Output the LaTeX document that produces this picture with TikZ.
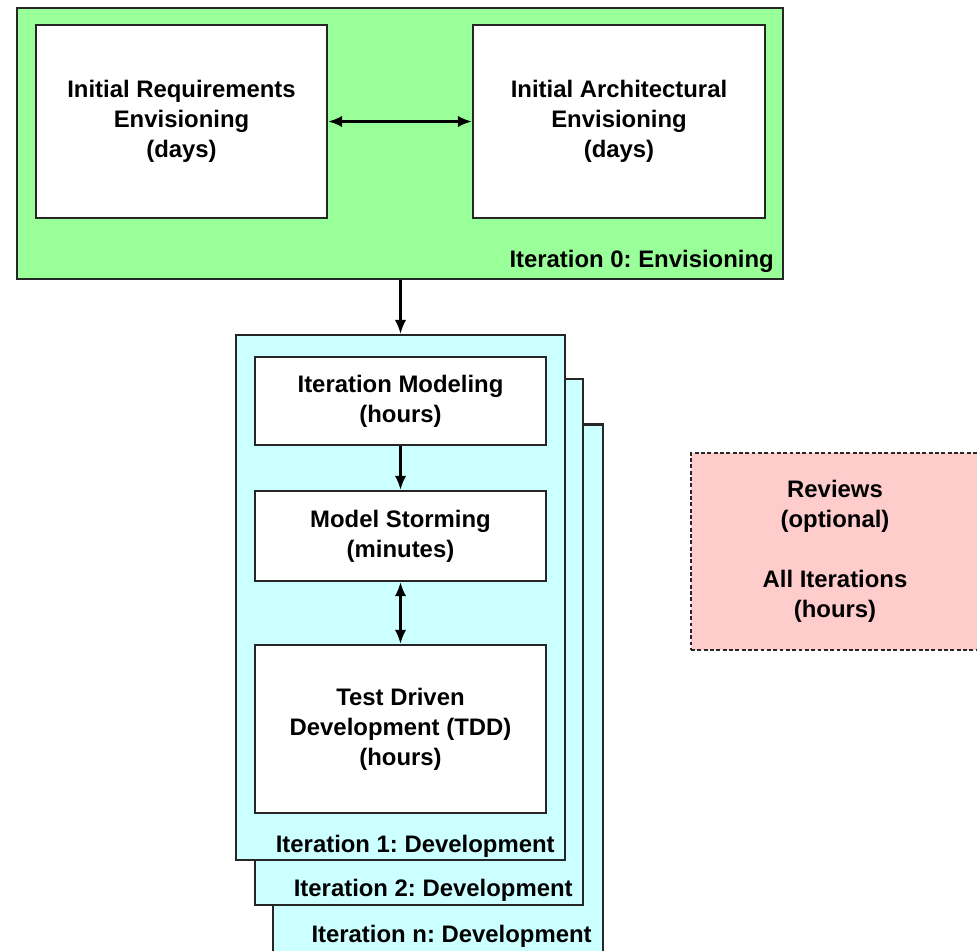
\documentclass[tikz,border=0pt]{standalone}
\usepackage{fontspec}
\setmainfont{Liberation Sans}
\usepackage{xcolor}
\usepackage{tikz}
\usetikzlibrary{positioning,arrows.meta}
\frenchspacing

\definecolor{envgreen}{HTML}{99FF99}
\definecolor{devcyan}{HTML}{CCFFFF}
\definecolor{revpink}{HTML}{FFCCCC}

\tikzset{
    phase/.style={draw=black!85, line width=1.3pt, rectangle},
    activity/.style={draw=black!85, line width=1.3pt, rectangle, fill=white, align=center,
        font=\fontsize{13.6}{17}\selectfont\bfseries},
    tag/.style={font=\fontsize{13.6}{17}\selectfont\bfseries, inner sep=0pt},
    flow/.style={line width=1.3pt, -{Latex[length=8pt,width=6.5pt]}},
    twoway/.style={line width=1.3pt, {Latex[length=8pt,width=6.5pt]}-{Latex[length=8pt,width=6.5pt]}}
}

\begin{document}
\begin{tikzpicture}[x=0.02cm, y=-0.02cm]
    \useasboundingbox (0,0) rectangle (977,950);
    \clip (0,0) rectangle (977,950);

    % Iteration 0: envisioning
    \node[phase, fill=envgreen, minimum width=15.32cm, minimum height=5.42cm] (envision) at (400,143.5) {};
    \node[tag, anchor=south east] (envtag) at ([xshift=-0.2cm,yshift=0.15cm]envision.south east) {Iteration 0: Envisioning};
    \node[activity, minimum width=5.82cm, minimum height=3.86cm] (reqenv) at (181.5,121.5)
        {Initial Requirements\\Envisioning\\(days)};
    \node[activity, minimum width=5.84cm, minimum height=3.86cm] (archenv) at (619,121.5)
        {Initial Architectural\\Envisioning\\(days)};
    \draw[twoway] (reqenv.east) -- (archenv.west);

    % Development iterations (stacked)
    \node[phase, fill=devcyan, minimum width=6.6cm, minimum height=10.7cm] (itern) at (438,692) {};
    \node[phase, fill=devcyan, minimum width=6.56cm, minimum height=10.52cm] (iter2) at (419,642) {};
    \node[phase, fill=devcyan, minimum width=6.58cm, minimum height=10.5cm] (iter1) at (400.5,597.5) {};
    \node[tag, anchor=east] (tag1) at (555,846) {Iteration 1: Development};
    \node[tag, anchor=east] (tag2) at (573,890) {Iteration 2: Development};
    \node[tag, anchor=east] (tagn) at (592,936) {Iteration n: Development};

    \node[activity, minimum width=5.82cm, minimum height=1.76cm] (itmodel) at (400.5,401)
        {Iteration Modeling\\(hours)};
    \node[activity, minimum width=5.82cm, minimum height=1.8cm] (storm) at (400.5,536)
        {Model Storming\\(minutes)};
    \node[activity, minimum width=5.82cm, minimum height=3.36cm] (tdd) at (400.5,729)
        {Test Driven\\Development (TDD)\\(hours)};

    \draw[flow] (envision.south -| iter1.north) -- (iter1.north);
    \draw[flow] (itmodel) -- (storm);
    \draw[twoway] (storm) -- (tdd);

    % Reviews
    \node[activity, fill=revpink, dash pattern=on 2.2pt off 1.4pt, minimum width=5.76cm, minimum height=3.94cm] (reviews) at (835,551.5)
        {Reviews\\(optional)\\[17pt]All Iterations\\(hours)};
\end{tikzpicture}
\end{document}
